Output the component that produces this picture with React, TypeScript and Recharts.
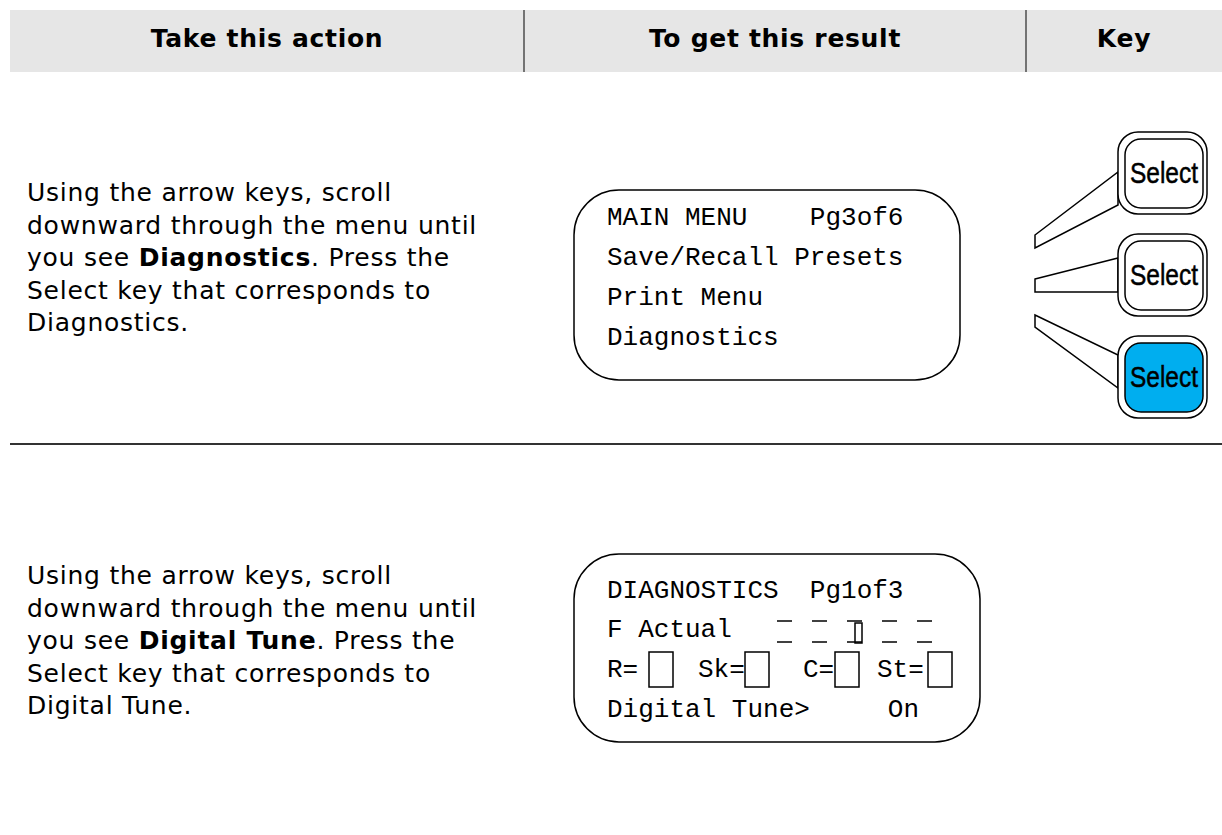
import React from 'react';
import { Surface, Layer, Rectangle, Polygon } from 'recharts';

// header columns
const headerLabels = ['Take this action', 'To get this result', 'Key'];

// action text, each line is a list of [text, bold] pieces
type Piece = [string, boolean];
const actionStep1: Piece[][] = [
  [['Using the arrow keys, scroll', false]],
  [['downward through the menu until', false]],
  [['you see ', false], ['Diagnostics', true], ['. Press the', false]],
  [['Select key that corresponds to', false]],
  [['Diagnostics.', false]],
];
const actionStep2: Piece[][] = [
  [['Using the arrow keys, scroll', false]],
  [['downward through the menu until', false]],
  [['you see ', false], ['Digital Tune', true], ['. Press the', false]],
  [['Select key that corresponds to', false]],
  [['Digital Tune.', false]],
];

// display screens
const mainMenuLines = ['MAIN MENU    Pg3of6', 'Save/Recall Presets', 'Print Menu', 'Diagnostics'];
const diagTitle = 'DIAGNOSTICS  Pg1of3';
const diagActual = 'F Actual';
const diagFields = ['R=', 'Sk=', 'C=', 'St='];
const diagTune = 'Digital Tune>     On';
const digitCount = 5;
const cursorDigit = 2;

// select keys, last one is the highlighted one
const keyLabels = ['Select', 'Select', 'Select'];
const activeKey = 2;

const W = 1222;
const H = 835;
const sans = '"DejaVu Sans", Verdana, sans-serif';
const mono = '"Liberation Mono", "Courier New", monospace';

function ActionText({ lines, y0 }: { lines: Piece[][]; y0: number }) {
  return (
    <text x={27} y={y0} fontFamily={sans} fontSize={25} letterSpacing={0.75} fill="#000">
      {lines.map((line, i) => (
        <tspan key={i} x={27} y={y0 + i * 32.5}>
          {line.map(([t, b], j) => (
            <tspan key={j} fontWeight={b ? 'bold' : 'normal'}>{t}</tspan>
          ))}
        </tspan>
      ))}
    </text>
  );
}

function MonoLine({ x, y, text }: { x: number; y: number; text: string }) {
  return (
    <text x={x} y={y} fontFamily={mono} fontSize={26} fill="#000" xmlSpace="preserve" style={{ whiteSpace: 'pre' }}>
      {text}
    </text>
  );
}

function SelectKey({ y, label, active }: { y: number; label: string; active: boolean }) {
  return (
    <Layer>
      <Rectangle x={1118} y={y} width={89} height={82} radius={20} fill="#fff" stroke="#000" strokeWidth={1.5} />
      <Rectangle x={1125} y={y + 7} width={78} height={69} radius={16} fill={active ? '#00AEEF' : '#fff'} stroke="#000" strokeWidth={1.5} />
      <text x={1164} y={y + 51} textAnchor="middle" fontFamily='"Liberation Sans", Arial, sans-serif' fontSize={29}
        textLength={68} lengthAdjust="spacingAndGlyphs" fill="#000" stroke="#000" strokeWidth={0.5}>
        {label}
      </text>
    </Layer>
  );
}

export default function App() {
  const keyTops = [132, 234, 336];
  const wedges = [
    [{ x: 1035, y: 235 }, { x: 1118, y: 172 }, { x: 1118, y: 205 }, { x: 1035, y: 248 }],
    [{ x: 1035, y: 279 }, { x: 1118, y: 258 }, { x: 1118, y: 292 }, { x: 1035, y: 292 }],
    [{ x: 1035, y: 315 }, { x: 1118, y: 355 }, { x: 1118, y: 388 }, { x: 1035, y: 327 }],
  ];
  const headerCenters = [267, 775, 1124];
  const fieldX = [607, 698, 803, 877];
  const fieldBoxes = [649, 745, 835, 928];

  return (
    <div style={{ position: 'absolute', left: 0, top: 0, width: W, height: H, background: '#fff' }}>
      <Surface width={W} height={H}>
        {/* header band */}
        <Layer>
          <Rectangle x={10} y={10} width={W - 10} height={62} fill="#E6E6E6" />
          <line x1={524} y1={10} x2={524} y2={72} stroke="#000" strokeWidth={1} />
          <line x1={1026} y1={10} x2={1026} y2={72} stroke="#000" strokeWidth={1} />
          {headerLabels.map((h, i) => (
            <text key={h} x={headerCenters[i]} y={47} textAnchor="middle" fontFamily={sans} fontWeight="bold"
              fontSize={25} letterSpacing={0.7} fill="#000">
              {h}
            </text>
          ))}
        </Layer>

        {/* step 1 */}
        <ActionText lines={actionStep1} y0={201} />
        <Layer>
          <Rectangle x={574} y={190} width={386} height={190} radius={45} fill="#fff" stroke="#000" strokeWidth={1.5} />
          {mainMenuLines.map((l, i) => (
            <MonoLine key={i} x={607} y={225 + i * 40} text={l} />
          ))}
        </Layer>
        <Layer>
          {wedges.map((pts, i) => (
            <Polygon key={i} points={pts} fill="#fff" stroke="#000" strokeWidth={1.5} />
          ))}
          {keyLabels.map((k, i) => (
            <SelectKey key={i} y={keyTops[i]} label={k} active={i === activeKey} />
          ))}
        </Layer>

        <line x1={10} y1={444} x2={W} y2={444} stroke="#333" strokeWidth={2} />

        {/* step 2 */}
        <ActionText lines={actionStep2} y0={584} />
        <Layer>
          <Rectangle x={574} y={554} width={406} height={188} radius={45} fill="#fff" stroke="#000" strokeWidth={1.5} />
          <MonoLine x={607} y={598} text={diagTitle} />
          <MonoLine x={607} y={637} text={diagActual} />
          {Array.from({ length: digitCount }).map((_, i) => {
            const dx = 777 + i * 35;
            return (
              <g key={i} stroke="#000" strokeWidth={1.5}>
                <line x1={dx} y1={621} x2={dx + 15} y2={621} />
                <line x1={dx} y1={642} x2={dx + 15} y2={642} />
                {i === cursorDigit && <rect x={855} y={623} width={7} height={20} fill="none" />}
              </g>
            );
          })}
          {diagFields.map((f, i) => (
            <g key={f}>
              <MonoLine x={fieldX[i]} y={677} text={f} />
              <rect x={fieldBoxes[i]} y={652} width={24} height={35} fill="none" stroke="#000" strokeWidth={1.5} />
            </g>
          ))}
          <MonoLine x={607} y={717} text={diagTune} />
        </Layer>
      </Surface>
    </div>
  );
}
